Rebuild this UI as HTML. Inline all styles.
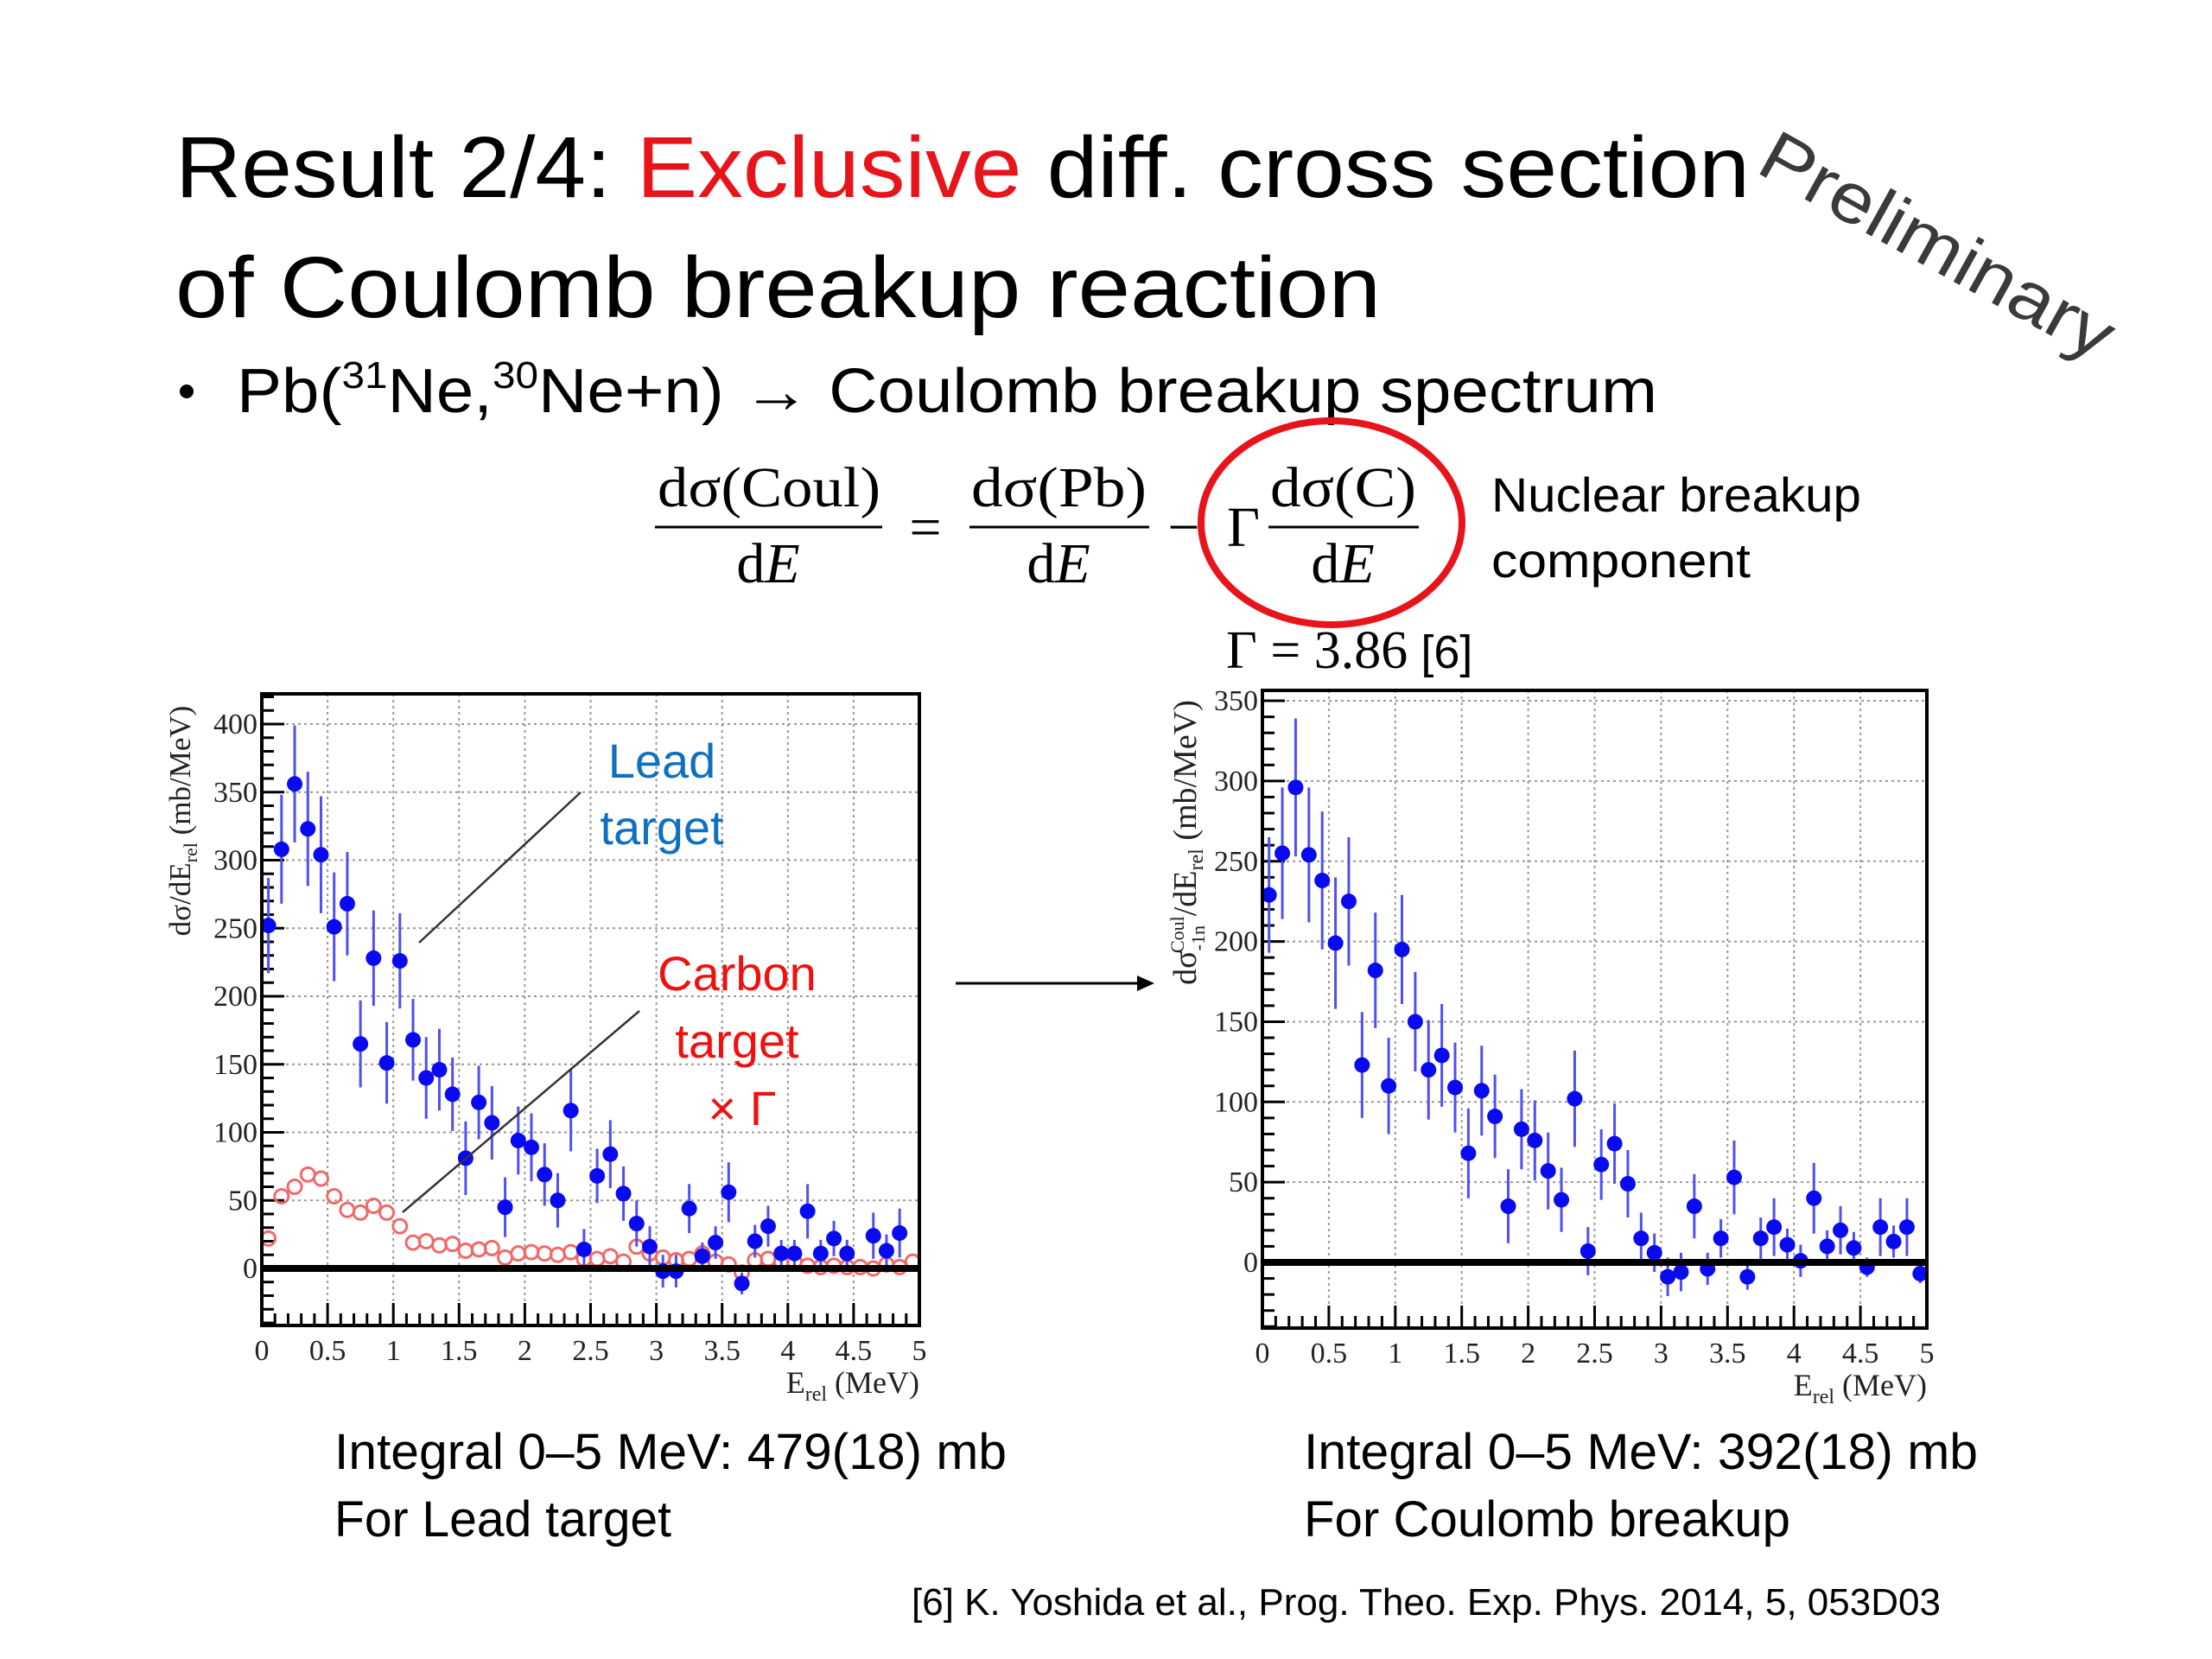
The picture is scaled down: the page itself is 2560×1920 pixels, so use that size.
<!DOCTYPE html>
<html><head><meta charset="utf-8"><style>
html,body{margin:0;padding:0;background:#fff;}
svg{display:block;}
.sans{font-family:"Liberation Sans",sans-serif;}
.serif{font-family:"Liberation Serif",serif;}
</style></head><body>
<svg id="slide" width="2560" height="1920" viewBox="0 0 2560 1920" xmlns="http://www.w3.org/2000/svg">
<g class="sans">
<text x="203" y="228" font-size="100" textLength="1822" lengthAdjust="spacingAndGlyphs">Result 2/4: <tspan fill="#e8141c">Exclusive</tspan> diff. cross section</text>
<text x="203" y="367" font-size="100" textLength="1395" lengthAdjust="spacingAndGlyphs">of Coulomb breakup reaction</text>
</g>
<text class="sans" x="2030" y="198" font-size="82" fill="#3a3a3a" transform="rotate(29 2030 198)" textLength="455" lengthAdjust="spacingAndGlyphs">Preliminary</text>
<circle cx="216" cy="453" r="8" fill="#000"/>
<text class="sans" x="274" y="477" font-size="72" textLength="1644" lengthAdjust="spacingAndGlyphs">Pb(<tspan font-size="44" dy="-28">31</tspan><tspan dy="28">Ne,</tspan><tspan font-size="44" dy="-28">30</tspan><tspan dy="28">Ne+n) → Coulomb breakup spectrum</tspan></text>
<g class="serif" font-size="66">
<text x="761" y="586" textLength="258" lengthAdjust="spacingAndGlyphs">dσ(Coul)</text>
<line x1="758" y1="610" x2="1021" y2="610" stroke="#000" stroke-width="3"/>
<text x="889" y="674" text-anchor="middle">d<tspan font-style="italic">E</tspan></text>
<text x="1071" y="632" text-anchor="middle">=</text>
<text x="1124" y="586" textLength="203" lengthAdjust="spacingAndGlyphs">dσ(Pb)</text>
<line x1="1122" y1="610" x2="1330" y2="610" stroke="#000" stroke-width="3"/>
<text x="1225" y="674" text-anchor="middle">d<tspan font-style="italic">E</tspan></text>
<text x="1370" y="632" text-anchor="middle">−</text>
<text x="1439" y="632" text-anchor="middle">Γ</text>
<text x="1470" y="586" textLength="169" lengthAdjust="spacingAndGlyphs">dσ(C)</text>
<line x1="1468" y1="610" x2="1642" y2="610" stroke="#000" stroke-width="3"/>
<text x="1554" y="674" text-anchor="middle">d<tspan font-style="italic">E</tspan></text>
</g>
<ellipse cx="1541" cy="605" rx="151" ry="118" fill="none" stroke="#e8141c" stroke-width="8"/>
<text class="sans" x="1726" y="592" font-size="56" textLength="428" lengthAdjust="spacingAndGlyphs">Nuclear breakup</text>
<text class="sans" x="1726" y="668" font-size="56" textLength="300" lengthAdjust="spacingAndGlyphs">component</text>
<text x="1419" y="773" font-size="62"><tspan class="serif">Γ = 3.86</tspan><tspan class="sans" font-size="54"> [6]</tspan></text>
<g id="chartL"></g>
<g id="chartR"></g>
<line x1="1106" y1="1138" x2="1320" y2="1138" stroke="#000" stroke-width="3"/>
<polygon points="1336,1138 1316,1129 1316,1147" fill="#000"/>
<g class="sans" font-size="58">
<text x="387" y="1700" textLength="778" lengthAdjust="spacingAndGlyphs">Integral 0–5 MeV: 479(18) mb</text>
<text x="387" y="1778" textLength="390" lengthAdjust="spacingAndGlyphs">For Lead target</text>
<text x="1509" y="1700" textLength="780" lengthAdjust="spacingAndGlyphs">Integral 0–5 MeV: 392(18) mb</text>
<text x="1509" y="1778" textLength="563" lengthAdjust="spacingAndGlyphs">For Coulomb breakup</text>
</g>
<text class="sans" x="1055" y="1869" font-size="44" textLength="1191" lengthAdjust="spacingAndGlyphs">[6] K. Yoshida et al., Prog. Theo. Exp. Phys. 2014, 5, 053D03</text>
</svg>
<script>
const xCenters = [0.05,0.15,0.25,0.35,0.45,0.55,0.65,0.75,0.85,0.95,1.05,1.15,1.25,1.35,1.45,1.55,1.65,1.75,1.85,1.95,2.05,2.15,2.25,2.35,2.45,2.55,2.65,2.75,2.85,2.95,3.05,3.15,3.25,3.35,3.45,3.55,3.65,3.75,3.85,3.95,4.05,4.15,4.25,4.35,4.45,4.55,4.65,4.75,4.85,4.95];
const leadValues = [252,308,356,323,304,251,268,165,228,151,226,168,140,146,128,81,122,107,45,94,89,69,50,116,14,68,84,55,33,16,-2,-2,44,9,19,56,-11,20,31,11,11,42,11,22,11,null,24,13,26,null];
const leadErrors = [35,40,43,42,43,40,38,32,35,30,35,30,30,30,27,27,27,27,22,25,25,23,20,30,15,20,25,20,17,15,12,12,18,10,12,22,8,12,15,10,10,20,10,13,10,0,17,12,18,0];
const carbonValues = [22,53,60,69,66,53,43,41,46,41,31,19,20,17,18,13,14,15,8,11,12,11,10,12,7,7,9,5,16,11,8,6,7,11,5,3,-3,6,7,5,5,2,1,2,1,1,0,3,1,5];
const coulValues = [229,255,296,254,238,199,225,123,182,110,195,150,120,129,109,68,107,91,35,83,76,57,39,102,7,61,74,49,15,6,-9,-6,35,-4,15,53,-9,15,22,11,1,40,10,20,9,-3,22,13,22,-7];
const coulErrors = [36,41,43,42,43,41,40,33,36,30,34,31,31,32,28,28,28,26,23,25,25,24,20,30,15,22,25,21,16,12,12,12,20,10,12,23,8,13,18,10,10,22,10,15,10,6,18,10,18,6];
const xTicks = [0,0.5,1,1.5,2,2.5,3,3.5,4,4.5,5];
const xTickLabels = ["0","0.5","1","1.5","2","2.5","3","3.5","4","4.5","5"];
const leadYTicks = [0,50,100,150,200,250,300,350,400];
const coulYTicks = [0,50,100,150,200,250,300,350];

const NS = "http://www.w3.org/2000/svg";
function mk(parent, tag, attrs, text) {
  const el = document.createElementNS(NS, tag);
  for (const k in attrs) el.setAttribute(k, attrs[k]);
  if (text !== undefined) el.textContent = text;
  parent.appendChild(el);
  return el;
}
function drawChart(g, cfg) {
  const sx = v => cfg.left + (v - 0) / 5 * (cfg.right - cfg.left);
  const sy = v => cfg.zeroY - v * cfg.pxPerUnit;
  xTicks.forEach(t => {
    if (t > 0 && t < 5) {
      const l = mk(g, "line", {x1: sx(t), x2: sx(t), y1: cfg.top, y2: cfg.bottom, stroke: "#999", "stroke-width": 2, "stroke-dasharray": "3,4"});
      
      
    }
  });
  cfg.yTicks.forEach(t => {
    const l = mk(g, "line", {x1: cfg.left, x2: cfg.right, y1: sy(t), y2: sy(t), stroke: "#999", "stroke-width": 2, "stroke-dasharray": "3,4"});
    
    
  });
  for (let i = 0; i <= 50; i++) {
    const v = i / 10;
    const len = (i % 5 === 0) ? 26 : 14;
    const t = mk(g, "line", {x1: sx(v), x2: sx(v), y1: cfg.bottom, y2: cfg.bottom - len, stroke: "#000", "stroke-width": 3});
    
    
  }
  for (let v = Math.ceil(cfg.yMin / 10) * 10; v <= cfg.yMax; v += 10) {
    const len = (v % 50 === 0) ? 26 : 14;
    const t = mk(g, "line", {x1: cfg.left, x2: cfg.left + len, y1: sy(v), y2: sy(v), stroke: "#000", "stroke-width": 3});
    
    
  }
  xTicks.forEach((t, i) => {
    const tx = mk(g, "text", {x: sx(t), y: cfg.bottom + 40, "text-anchor": "middle", "font-size": 34, "font-family": "Liberation Serif, serif", fill: "#222"}, xTickLabels[i]);
    
    
  });
  cfg.yTicks.forEach(t => {
    const ty = mk(g, "text", {x: cfg.left - 5, y: sy(t) + 11, "text-anchor": "end", "font-size": 34, "font-family": "Liberation Serif, serif", fill: "#222"}, String(t));
    
    
  });
  const xt = mk(g, "text", {x: cfg.right, y: cfg.bottom + 78, "text-anchor": "end", "font-size": 36, "font-family": "Liberation Serif, serif", fill: "#222"});
  xt.innerHTML = 'E<tspan font-size="24" dy="9">rel</tspan><tspan dy="-9"> (MeV)</tspan>';
  
  
  const yt = mk(g, "text", {x: 0, y: 0, "text-anchor": "middle", "font-size": cfg.yTitleSize, "font-family": "Liberation Serif, serif", fill: "#222", transform: `translate(${cfg.yTitleX},${cfg.yTitleY}) rotate(-90)`});
  yt.innerHTML = cfg.yTitle;
  
  
  if (cfg.carbon) {
    cfg.carbon.forEach((v, i) => {
      if (v === null) return;
      const c = mk(g, "circle", {cx: sx(xCenters[i]), cy: sy(v), r: 8, fill: "none", stroke: "#f06a6a", "stroke-width": 3});
      
      
    });
  }
  cfg.values.forEach((v, i) => {
    if (v === null) return;
    const e = cfg.errors[i];
    const el = mk(g, "line", {x1: sx(xCenters[i]), x2: sx(xCenters[i]), y1: sy(v - e), y2: sy(v + e), stroke: "#5050f0", "stroke-width": 3});
    
    
    const p = mk(g, "circle", {cx: sx(xCenters[i]), cy: sy(v), r: 9, fill: "#0a0af0"});
    
    
  });
  const z = mk(g, "line", {x1: cfg.left, x2: cfg.right, y1: sy(0), y2: sy(0), stroke: "#000", "stroke-width": 8});
  
  
  const f = mk(g, "rect", {x: cfg.left, y: cfg.top, width: cfg.right - cfg.left, height: cfg.bottom - cfg.top, fill: "none", stroke: "#000", "stroke-width": 4});
  
  
}
drawChart(document.getElementById("chartL"), {
  left: 303, right: 1064, top: 803, bottom: 1534, zeroY: 1468, pxPerUnit: 1.575,
  yMin: -40, yMax: 420, yTicks: leadYTicks, values: leadValues, errors: leadErrors, carbon: carbonValues,
  yTitleX: 220, yTitleY: 950, yTitleSize: 35,
  yTitle: 'dσ/dE<tspan font-size="22" dy="8">rel</tspan><tspan dy="-8"> (mb/MeV)</tspan>'
});
drawChart(document.getElementById("chartR"), {
  left: 1461, right: 2230, top: 799, bottom: 1537, zeroY: 1461, pxPerUnit: 1.857,
  yMin: -40, yMax: 350, yTicks: coulYTicks, values: coulValues, errors: coulErrors, carbon: null,
  yTitleX: 1384, yTitleY: 975, yTitleSize: 38,
  yTitle: 'dσ<tspan font-size="22" dy="10">-1n</tspan><tspan font-size="22" dx="-32" dy="-24">Coul</tspan><tspan dy="14">/dE</tspan><tspan font-size="24" dy="8">rel</tspan><tspan dy="-8"> (mb/MeV)</tspan>'
});
const gL = document.getElementById("chartL");
const ann = [
  ["Lead", 766, 900, "#1070c0", "lead-label"],
  ["target", 766, 977, "#1070c0", "lead-target-label"],
  ["Carbon", 853, 1146, "#f01010", "carbon-label"],
  ["target", 853, 1224, "#f01010", "carbon-target-label"],
  ["× Γ", 859, 1302, "#f01010", "gamma-multiplier-label"]
];
ann.forEach(a => {
  const t = mk(gL, "text", {x: a[1], y: a[2], "text-anchor": "middle", "font-size": 56, "font-family": "Liberation Sans, sans-serif", fill: a[3]}, a[0]);
  
  
});
const l1 = mk(gL, "line", {x1: 485, y1: 1091, x2: 672, y2: 917, stroke: "#333", "stroke-width": 2.5});


const l2 = mk(gL, "line", {x1: 466, y1: 1403, x2: 740, y2: 1170, stroke: "#333", "stroke-width": 2.5});


</script>
</body></html>
